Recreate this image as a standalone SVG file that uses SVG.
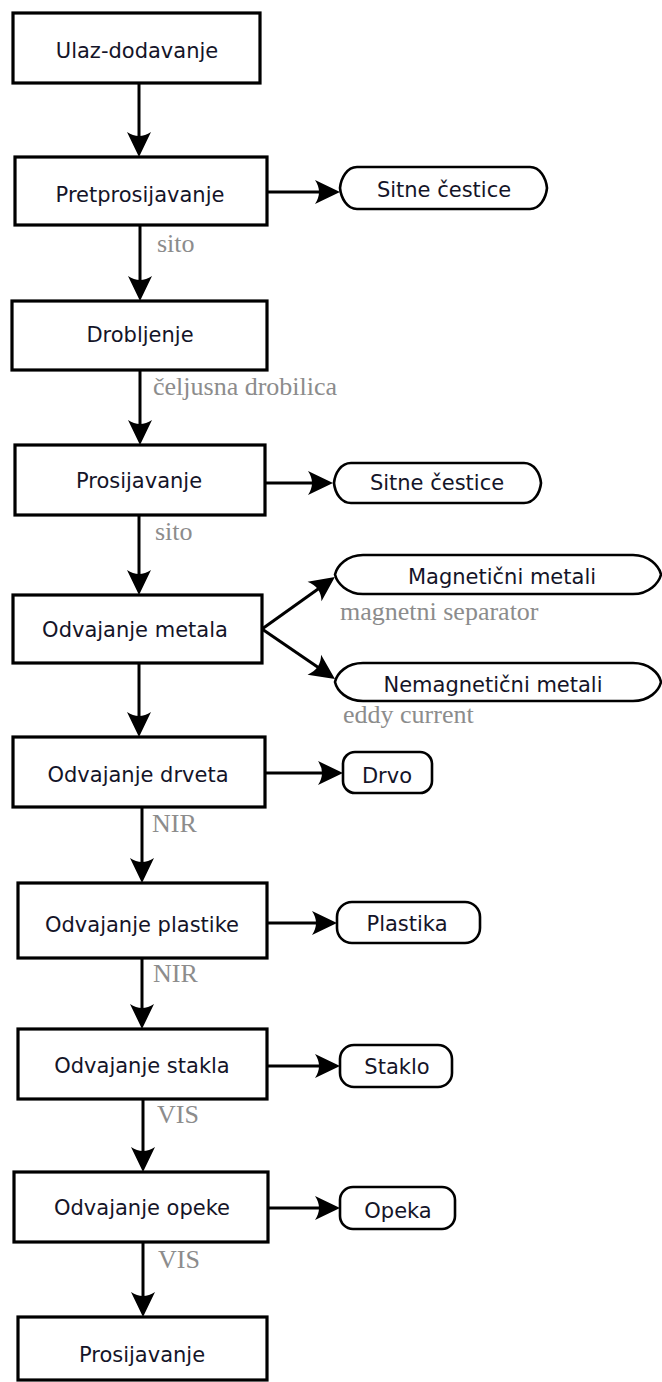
<svg xmlns="http://www.w3.org/2000/svg" width="662" height="1382" viewBox="0 0 662 1382">
<style>
.box{fill:#fff;stroke:#000;stroke-width:3.2}
.term{fill:#fff;stroke:#000;stroke-width:2.6}
.t{font-family:"DejaVu Sans",Verdana,sans-serif;font-size:21px;fill:#141428;text-anchor:middle}
.lbl{font-family:"Liberation Serif","Times New Roman",serif;font-size:26px;fill:#8c8c8c}
.c{fill:none;stroke:#000;stroke-width:3}
</style>
<defs>
<marker id="ah" markerUnits="userSpaceOnUse" viewBox="-21 -13 28 26" markerWidth="28" markerHeight="26" refX="0" refY="0" orient="auto" overflow="visible">
<path d="M6,0 L-19,-12 Q-11,0 -19,12 Z" fill="#000"/>
</marker>
</defs>
<rect width="662" height="1382" fill="#fff"/>
<g id="connectors">
<line class="c" x1="139" y1="83" x2="139" y2="151" marker-end="url(#ah)"/>
<line class="c" x1="267" y1="192" x2="334" y2="192" marker-end="url(#ah)"/>
<line class="c" x1="140" y1="225" x2="140" y2="295" marker-end="url(#ah)"/>
<line class="c" x1="140" y1="370" x2="140" y2="439" marker-end="url(#ah)"/>
<line class="c" x1="265" y1="483" x2="327" y2="483" marker-end="url(#ah)"/>
<line class="c" x1="139" y1="515" x2="139" y2="589" marker-end="url(#ah)"/>
<line class="c" x1="262" y1="629" x2="330" y2="580.5" marker-end="url(#ah)"/>
<line class="c" x1="262" y1="629" x2="330" y2="675.5" marker-end="url(#ah)"/>
<line class="c" x1="139" y1="663" x2="139" y2="731" marker-end="url(#ah)"/>
<line class="c" x1="265" y1="773" x2="337" y2="773" marker-end="url(#ah)"/>
<line class="c" x1="142" y1="807" x2="142" y2="877" marker-end="url(#ah)"/>
<line class="c" x1="267" y1="923" x2="331" y2="923" marker-end="url(#ah)"/>
<line class="c" x1="142" y1="958" x2="142" y2="1023" marker-end="url(#ah)"/>
<line class="c" x1="267" y1="1066" x2="334" y2="1066" marker-end="url(#ah)"/>
<line class="c" x1="143" y1="1099" x2="143" y2="1166" marker-end="url(#ah)"/>
<line class="c" x1="268" y1="1208" x2="334" y2="1208" marker-end="url(#ah)"/>
<line class="c" x1="143" y1="1242" x2="143" y2="1311" marker-end="url(#ah)"/>
</g>
<g id="n1"><rect class="box" x="13" y="13" width="247" height="70"/><text class="t" x="137" y="58">Ulaz-dodavanje</text></g>
<g id="n2"><rect class="box" x="15" y="157" width="252" height="68"/><text class="t" x="140" y="202">Pretprosijavanje</text></g>
<g id="t1"><path class="term" d="M357,167 H530 C540,167 546,178 547,188 C546,198 540,209 530,209 H357 C347,209 341,198 340,188 C341,178 347,167 357,167 Z"/><text class="t" x="444" y="197">Sitne čestice</text></g>
<g id="n3"><rect class="box" x="12" y="301" width="255" height="69"/><text class="t" x="140" y="342">Drobljenje</text></g>
<g id="n4"><rect class="box" x="15" y="445" width="250" height="70"/><text class="t" x="139" y="488">Prosijavanje</text></g>
<g id="t2"><path class="term" d="M351,463 H524 C534,463 540,473 541,483 C540,493 534,503 524,503 H351 C341,503 335,493 334,483 C335,473 341,463 351,463 Z"/><text class="t" x="437" y="490">Sitne čestice</text></g>
<g id="n5"><rect class="box" x="13" y="595" width="249" height="68"/><text class="t" x="135" y="637">Odvajanje metala</text></g>
<g id="t3"><path class="term" d="M363,555 H633 C649,555 659,566 661,574.5 C659,583 649,594 633,594 H363 C347,594 337,583 335,574.5 C337,566 347,555 363,555 Z"/><text class="t" x="502" y="584">Magnetični metali</text></g>
<g id="t4"><path class="term" d="M363,663 H633 C649,663 659,673 661,682 C659,691 649,701 633,701 H363 C347,701 337,691 335,682 C337,673 347,663 363,663 Z"/><text class="t" x="493" y="692">Nemagnetični metali</text></g>
<g id="n6"><rect class="box" x="13" y="737" width="252" height="70"/><text class="t" x="138" y="782">Odvajanje drveta</text></g>
<g id="t5"><rect class="term" x="343" y="752" width="89" height="41" rx="12" ry="12"/><text class="t" x="387" y="783">Drvo</text></g>
<g id="n7"><rect class="box" x="18" y="883" width="249" height="75"/><text class="t" x="142" y="932">Odvajanje plastike</text></g>
<g id="t6"><rect class="term" x="337" y="902" width="143" height="41" rx="15" ry="15"/><text class="t" x="407" y="931">Plastika</text></g>
<g id="n8"><rect class="box" x="18" y="1029" width="249" height="70"/><text class="t" x="142" y="1073">Odvajanje stakla</text></g>
<g id="t7"><rect class="term" x="340" y="1045" width="112" height="42" rx="14" ry="14"/><text class="t" x="397" y="1074">Staklo</text></g>
<g id="n9"><rect class="box" x="14" y="1172" width="254" height="70"/><text class="t" x="142" y="1215">Odvajanje opeke</text></g>
<g id="t8"><rect class="term" x="340" y="1187" width="115" height="42" rx="13" ry="13"/><text class="t" x="398" y="1218">Opeka</text></g>
<g id="n10"><rect class="box" x="18" y="1317" width="249" height="63"/><text class="t" x="142" y="1362">Prosijavanje</text></g>
<g id="labels">
<text class="lbl" x="157" y="252">sito</text>
<text class="lbl" x="153" y="395">čeljusna drobilica</text>
<text class="lbl" x="155" y="540">sito</text>
<text class="lbl" x="340" y="620">magnetni separator</text>
<text class="lbl" x="343" y="723">eddy current</text>
<text class="lbl" x="152" y="832">NIR</text>
<text class="lbl" x="153" y="982">NIR</text>
<text class="lbl" x="157" y="1123">VIS</text>
<text class="lbl" x="158" y="1268">VIS</text>
</g>
</svg>
